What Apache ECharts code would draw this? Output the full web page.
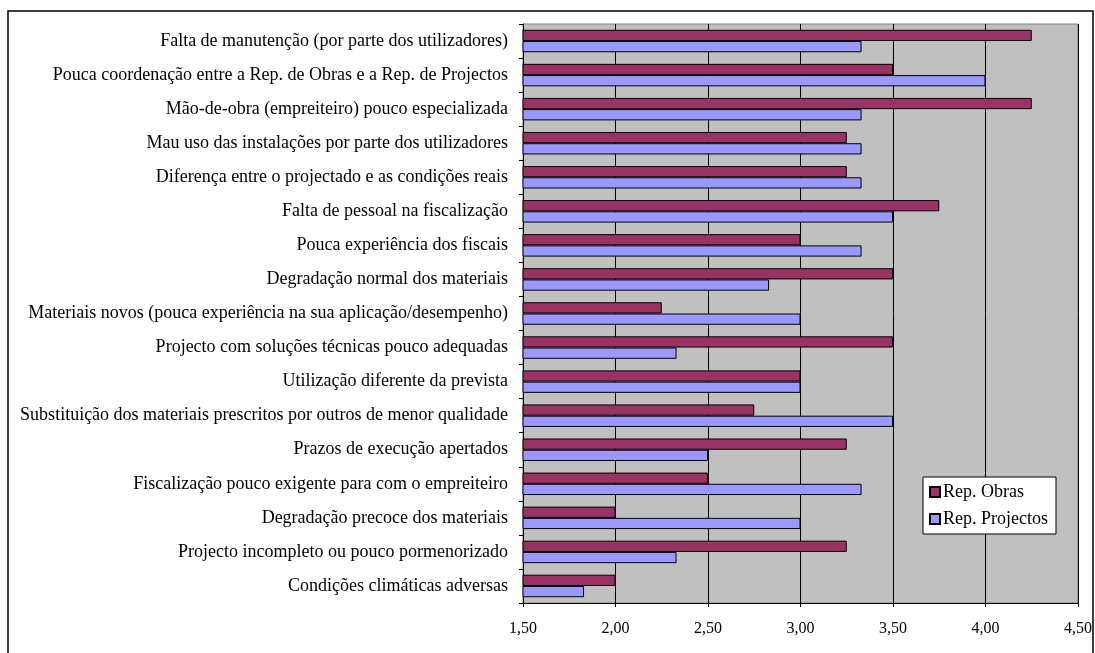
<!DOCTYPE html>
<html>
<head>
<meta charset="utf-8">
<script src="https://cdn.jsdelivr.net/npm/echarts@6/dist/echarts.min.js"></script>
<style>
  html, body { margin: 0; padding: 0; background: #ffffff; }
  #chart { width: 1095px; height: 653px; }
</style>
</head>
<body>
<div id="chart"></div>
<script>
// Causas de anomalias: pontuação média por grupo de respondentes
const categories = [
  'Falta de manutenção (por parte dos utilizadores)',
  'Pouca coordenação entre a Rep. de Obras e a Rep. de Projectos',
  'Mão-de-obra (empreiteiro) pouco especializada',
  'Mau uso das instalações por parte dos utilizadores',
  'Diferença entre o projectado e as condições reais',
  'Falta de pessoal na fiscalização',
  'Pouca experiência dos fiscais',
  'Degradação normal dos materiais',
  'Materiais novos (pouca experiência na sua aplicação/desempenho)',
  'Projecto com soluções técnicas pouco adequadas',
  'Utilização diferente da prevista',
  'Substituição dos materiais prescritos por outros de menor qualidade',
  'Prazos de execução apertados',
  'Fiscalização pouco exigente para com o empreiteiro',
  'Degradação precoce dos materiais',
  'Projecto incompleto ou pouco pormenorizado',
  'Condições climáticas adversas'
];

const repObras = [4.25, 3.50, 4.25, 3.25, 3.25, 3.75, 3.00, 3.50, 2.25, 3.50, 3.00, 2.75, 3.25, 2.50, 2.00, 3.25, 2.00];
const repProjectos = [3.33, 4.00, 3.33, 3.33, 3.33, 3.50, 3.33, 2.83, 3.00, 2.33, 3.00, 3.50, 2.50, 3.33, 3.00, 2.33, 1.83];

const xTicks = { min: 1.5, max: 4.5, step: 0.5 };

const serif = '"Liberation Serif", "DejaVu Serif", serif';

const chart = echarts.init(document.getElementById('chart'));

chart.setOption({
  animation: false,
  backgroundColor: '#ffffff',
  textStyle: { fontFamily: serif, color: '#000' },
  graphic: [{
    type: 'rect',
    shape: { x: 8, y: 11, width: 1085, height: 700 },
    style: { fill: 'none', stroke: '#000', lineWidth: 1.5 },
    silent: true,
    z: 100
  }],
  grid: {
    left: 523, right: 15, top: 24, bottom: 50,
    show: true,
    backgroundColor: '#C0C0C0',
    borderColor: '#808080',
    borderWidth: 1
  },
  legend: {
    orient: 'vertical',
    left: 923, top: 477,
    backgroundColor: '#ffffff',
    borderColor: '#000',
    borderWidth: 1,
    padding: [6, 8, 6, 6],
    itemWidth: 10, itemHeight: 10,
    itemGap: 9,
    icon: 'rect',
    textStyle: { fontFamily: serif, fontSize: 18, color: '#000', padding: [0, 0, 0, -2] },
    data: ['Rep. Obras', 'Rep. Projectos']
  },
  xAxis: {
    type: 'value',
    min: xTicks.min, max: xTicks.max, interval: xTicks.step,
    axisLine: { show: true, lineStyle: { color: '#000', width: 1 } },
    axisTick: { show: true, length: 4, lineStyle: { color: '#000' } },
    axisLabel: {
      margin: 18,
      fontFamily: serif, fontSize: 16, color: '#000',
      formatter: v => v.toFixed(2).replace('.', ',')
    },
    splitLine: { show: true, lineStyle: { color: '#000', width: 1 } }
  },
  yAxis: {
    type: 'category',
    inverse: true,
    data: categories,
    axisLine: { show: true, lineStyle: { color: '#000', width: 1 } },
    axisTick: { show: true, length: 4, lineStyle: { color: '#000' } },
    axisLabel: { margin: 15, fontFamily: serif, fontSize: 18, color: '#000' },
    splitLine: { show: false }
  },
  series: [
    {
      name: 'Rep. Obras',
      type: 'bar',
      data: repObras,
      barGap: '0%',
      barCategoryGap: '34%',
      itemStyle: { color: '#993366', borderColor: '#000', borderWidth: 1 }
    },
    {
      name: 'Rep. Projectos',
      type: 'bar',
      data: repProjectos,
      barGap: '0%',
      barCategoryGap: '34%',
      itemStyle: { color: '#9999FF', borderColor: '#000', borderWidth: 1 }
    }
  ]
});
</script>
</body>
</html>
